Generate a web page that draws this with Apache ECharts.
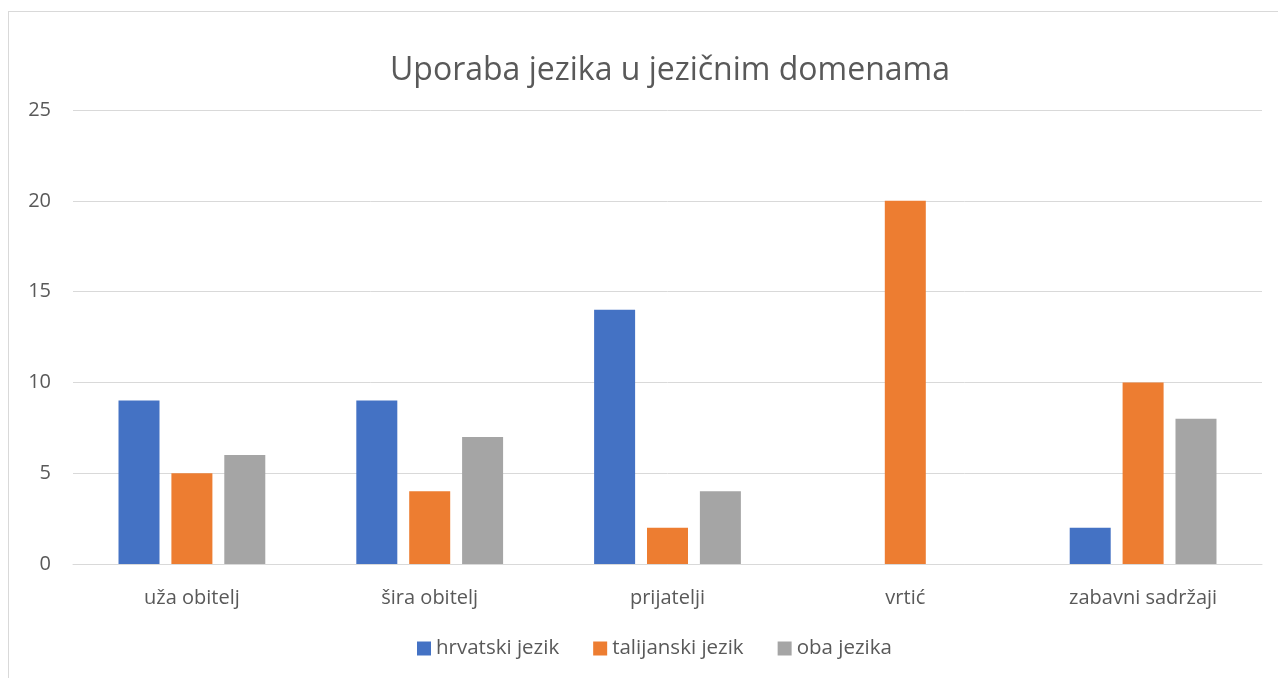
<!DOCTYPE html>
<html>
<head>
<meta charset="utf-8">
<script src="https://cdn.jsdelivr.net/npm/echarts@6/dist/echarts.min.js"></script>
<style>
  html, body { margin: 0; padding: 0; background: #fff; }
  #frame { position: absolute; left: 8px; top: 11px; width: 1290px; height: 700px; border: 1px solid #d9d9d9; box-sizing: border-box; }
  #main { position: absolute; left: 0; top: 0; width: 1278px; height: 678px; }
</style>
</head>
<body>
<div id="frame"></div>
<div id="main"></div>
<script>
// kategorije i vrijednosti
var categories = ['uža obitelj', 'šira obitelj', 'prijatelji', 'vrtić', 'zabavni sadržaji'];
var hrvatski = [9, 9, 14, 0, 2];
var talijanski = [5, 4, 2, 20, 10];
var oba = [6, 7, 4, 0, 8];
var seriesNames = ['hrvatski jezik', 'talijanski jezik', 'oba jezika'];

var font = '"Open Sans", sans-serif';
var myChart = echarts.init(document.getElementById('main'));

var option = {
    animation: false,
    color: ['#4472C4', '#ED7D31', '#A5A5A5'],
    title: {
        text: 'Uporaba jezika u jezičnim domenama',
        left: 385,
        top: 50,
        textStyle: { fontFamily: font, fontSize: 32, fontWeight: 'normal', color: '#595959' }
    },
    legend: {
        data: seriesNames,
        top: 633,
        left: 412,
        itemWidth: 14,
        itemHeight: 14,
        itemGap: 34,
        icon: 'rect',
        textStyle: { fontFamily: font, fontSize: 20.5, color: '#595959' }
    },
    grid: { left: 73, right: 16, top: 110, bottom: 114 },
    xAxis: {
        type: 'category',
        data: categories,
        axisLine: { lineStyle: { color: '#d9d9d9', width: 1 } },
        axisTick: { show: false },
        axisLabel: { fontFamily: font, fontSize: 20, color: '#595959', margin: 24 }
    },
    yAxis: {
        type: 'value',
        min: 0,
        max: 25,
        interval: 5,
        axisLine: { show: false },
        axisTick: { show: false },
        splitLine: { lineStyle: { color: '#d9d9d9', width: 1 } },
        axisLabel: { fontFamily: font, fontSize: 20, color: '#595959', margin: 22 }
    },
    series: [
        { name: seriesNames[0], type: 'bar', data: hrvatski, barWidth: 41, barGap: '29%' },
        { name: seriesNames[1], type: 'bar', data: talijanski, barWidth: 41, barGap: '29%' },
        { name: seriesNames[2], type: 'bar', data: oba, barWidth: 41, barGap: '29%' }
    ]
};

myChart.setOption(option);
</script>
</body>
</html>
